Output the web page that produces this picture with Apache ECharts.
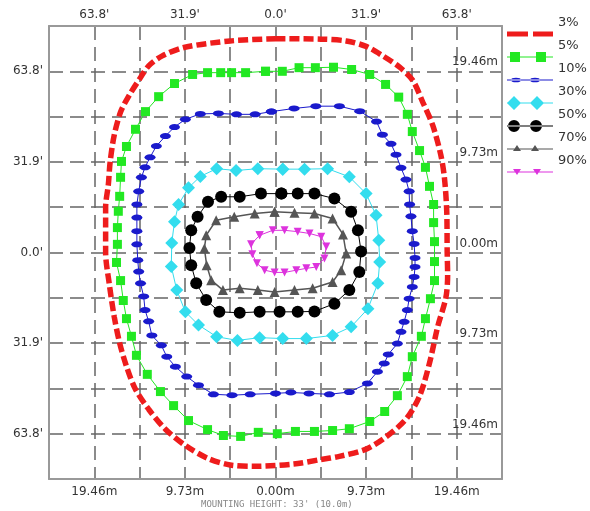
<!DOCTYPE html>
<html>
<head>
<meta charset="utf-8">
<script src="https://cdn.jsdelivr.net/npm/echarts@6/dist/echarts.min.js"></script>
<style>html,body{margin:0;padding:0;background:#fff}#c{width:590px;height:511px}</style>
</head>
<body>
<div id="c"></div>
<script>
// Axis ticks (grid units; one unit = 4.865 m = 15.95 ft)
const tickValues = [-4, -2, 0, 2, 4];
const meterLabels = ['19.46m', '9.73m', '0.00m', '9.73m', '19.46m'];
const feetLabels = ["63.8'", "31.9'", "0.0'", "31.9'", "63.8'"];
const seriesNames = ['3%', '5%', '10%', '30%', '50%', '70%', '90%'];

const iso3 = [[0,4.72],[1.0,4.71],[1.56,4.67],[2.0,4.55],[2.37,4.34],[2.74,4.09],[3.03,3.80],[3.25,3.32],[3.47,2.81],[3.65,2.15],[3.73,1.64],[3.78,0.91],[3.79,0.0],[3.80,-0.5],[3.76,-1.0],[3.58,-1.64],[3.40,-2.44],[3.18,-3.17],[2.88,-3.68],[2.44,-4.07],[2.0,-4.34],[1.41,-4.5],[1.0,-4.57],[0.4,-4.67],[-0.46,-4.72],[-1.0,-4.69],[-1.48,-4.55],[-1.99,-4.26],[-2.43,-3.9],[-2.8,-3.46],[-3.1,-3.0],[-3.29,-2.51],[-3.44,-2.0],[-3.56,-1.42],[-3.67,-0.69],[-3.75,0],[-3.75,1.0],[-3.69,1.5],[-3.65,2.0],[-3.56,2.59],[-3.42,3.1],[-3.23,3.47],[-3.0,3.83],[-2.8,4.12],[-2.5,4.34],[-2.0,4.53],[-1.0,4.67],[0,4.72]];

const iso5 = [[-0.22,4.0],[0.15,4.0],[0.52,4.08],[0.88,4.08],[1.28,4.09],[1.68,4.04],[2.08,3.93],[2.43,3.71],[2.72,3.43],[2.91,3.05],[3.02,2.67],[3.18,2.25],[3.31,1.88],[3.40,1.46],[3.49,1.06],[3.49,0.66],[3.51,0.24],[3.51,-0.2],[3.51,-0.62],[3.42,-1.02],[3.31,-1.46],[3.22,-1.85],[3.02,-2.30],[2.91,-2.74],[2.69,-3.16],[2.41,-3.51],[2.08,-3.73],[1.63,-3.89],[1.26,-3.93],[0.86,-3.95],[0.44,-3.95],[0.04,-4.0],[-0.38,-3.97],[-0.77,-4.06],[-1.15,-4.04],[-1.50,-3.91],[-1.92,-3.71],[-2.25,-3.38],[-2.54,-3.07],[-2.83,-2.69],[-3.07,-2.27],[-3.18,-1.85],[-3.29,-1.46],[-3.36,-1.06],[-3.42,-0.62],[-3.51,-0.22],[-3.49,0.18],[-3.49,0.55],[-3.47,0.91],[-3.44,1.24],[-3.42,1.66],[-3.40,2.01],[-3.29,2.34],[-3.09,2.72],[-2.87,3.11],[-2.58,3.44],[-2.23,3.73],[-1.83,3.93],[-1.50,3.97],[-1.21,3.97],[-0.97,3.97],[-0.66,3.97],[-0.22,4.0]];

const iso10 = [[-0.09,3.11],[0.41,3.18],[0.89,3.23],[1.41,3.23],[1.86,3.12],[2.23,2.89],[2.36,2.60],[2.55,2.40],[2.66,2.16],[2.77,1.87],[2.88,1.61],[2.95,1.35],[2.96,1.06],[2.99,0.80],[3.02,0.47],[3.06,0.19],[3.08,-0.12],[3.08,-0.32],[3.06,-0.54],[3.02,-0.76],[2.95,-1.02],[2.91,-1.27],[2.84,-1.53],[2.77,-1.75],[2.69,-2.01],[2.49,-2.25],[2.40,-2.45],[2.25,-2.63],[2.03,-2.89],[1.63,-3.08],[1.19,-3.13],[0.74,-3.11],[0.34,-3.09],[0.0,-3.11],[-0.56,-3.13],[-0.96,-3.15],[-1.37,-3.13],[-1.70,-2.93],[-1.96,-2.74],[-2.21,-2.52],[-2.40,-2.30],[-2.52,-2.05],[-2.73,-1.83],[-2.80,-1.52],[-2.88,-1.27],[-2.91,-0.97],[-2.98,-0.68],[-3.02,-0.42],[-3.04,-0.17],[-3.06,0.18],[-3.06,0.47],[-3.06,0.77],[-3.06,1.06],[-3.02,1.35],[-2.96,1.66],[-2.88,1.88],[-2.77,2.10],[-2.63,2.35],[-2.43,2.57],[-2.23,2.77],[-1.99,2.94],[-1.66,3.06],[-1.26,3.07],[-0.86,3.05],[-0.45,3.05],[-0.09,3.11]];

const iso30 = [[0.16,1.84],[0.64,1.84],[1.15,1.85],[1.63,1.67],[2.0,1.30],[2.22,0.82],[2.28,0.27],[2.30,-0.21],[2.26,-0.68],[2.04,-1.24],[1.67,-1.64],[1.26,-1.83],[0.68,-1.90],[0.16,-1.90],[-0.35,-1.88],[-0.84,-1.94],[-1.30,-1.86],[-1.70,-1.60],[-1.99,-1.31],[-2.18,-0.83],[-2.30,-0.31],[-2.29,0.21],[-2.23,0.68],[-2.14,1.06],[-1.92,1.43],[-1.66,1.68],[-1.30,1.85],[-0.87,1.81],[-0.39,1.85],[0.16,1.84]];

const iso50 = [[0.13,1.30],[0.49,1.30],[0.86,1.30],[1.30,1.19],[1.67,0.90],[1.82,0.49],[1.89,0.02],[1.85,-0.43],[1.63,-0.83],[1.30,-1.13],[0.86,-1.30],[0.49,-1.31],[0.09,-1.31],[-0.35,-1.31],[-0.79,-1.33],[-1.24,-1.31],[-1.53,-1.05],[-1.75,-0.68],[-1.86,-0.28],[-1.90,0.10],[-1.86,0.49],[-1.72,0.79],[-1.49,1.12],[-1.20,1.23],[-0.79,1.23],[-0.32,1.30],[0.13,1.30]];

const iso70 = [[-0.02,0.90],[0.42,0.88],[0.86,0.86],[1.26,0.75],[1.49,0.40],[1.56,-0.02],[1.45,-0.39],[1.26,-0.65],[0.82,-0.79],[0.42,-0.83],[-0.02,-0.87],[-0.39,-0.83],[-0.79,-0.79],[-1.16,-0.83],[-1.42,-0.61],[-1.52,-0.28],[-1.57,0.09],[-1.53,0.38],[-1.31,0.71],[-0.91,0.79],[-0.46,0.86],[-0.02,0.90]];

const iso90 = [[-0.35,0.38],[-0.06,0.49],[0.20,0.49],[0.49,0.46],[0.75,0.42],[1.01,0.35],[1.12,0.13],[1.08,-0.13],[0.90,-0.32],[0.68,-0.35],[0.46,-0.39],[0.20,-0.44],[-0.02,-0.44],[-0.24,-0.39],[-0.41,-0.24],[-0.51,-0.04],[-0.54,0.18],[-0.35,0.38]];

function labelFor(list) {
  return function (v) {
    const i = tickValues.indexOf(Math.round(v));
    return (Math.abs(v - Math.round(v)) < 1e-6 && i >= 0) ? list[i] : '';
  };
}

const corners = 'M0,0h0.01v0.01h-0.01z M45.99,13.99h0.01v0.01h-0.01z ';
const icons = [
  'path://' + corners + 'M0,4.5h21v5h-21z M26,4.5h20v5h-20z',
  'path://' + corners + 'M0,6.5h46v1h-46z M3,2h10v10h-10z M29,2h10v10h-10z',
  'path://' + corners + 'M0,6.5h46v1h-46z M4,7a5,2.3 0 1,0 10,0a5,2.3 0 1,0 -10,0z M23,7a5,2.3 0 1,0 10,0a5,2.3 0 1,0 -10,0z',
  'path://' + corners + 'M0,6.5h46v1h-46z M7,0L14,7L7,14L0,7z M30,0L37,7L30,14L23,7z',
  'path://' + corners + 'M0,6.5h46v1h-46z M1,7a6,6 0 1,0 12,0a6,6 0 1,0 -12,0z M23,7a6,6 0 1,0 12,0a6,6 0 1,0 -12,0z',
  'path://' + corners + 'M0,6.5h46v1h-46z M10,3L14,9L6,9z M28,3L32,9L24,9z',
  'path://' + corners + 'M0,6.5h46v1h-46z M6,4L14,4L10,10z M26,4L34,4L30,10z'
];

const gridDash = { show: true, lineStyle: { color: '#666', type: [14, 7], width: 1.5 } };
const frame = { show: true, onZero: false, lineStyle: { color: '#999', width: 2 } };
const labelFont = { fontFamily: 'DejaVu Sans', fontSize: 12, color: '#333' };

const chart = echarts.init(document.getElementById('c'), null, { renderer: 'canvas' });
chart.setOption({
  animation: false,
  backgroundColor: '#fff',
  title: {
    text: "MOUNTING HEIGHT: 33' (10.0m)",
    left: 201, top: 500, padding: 0,
    textStyle: { fontFamily: 'DejaVu Sans Mono', fontSize: 9, fontWeight: 'normal', color: '#888' }
  },
  grid: { left: 49, right: 88, top: 26, bottom: 32 },
  legend: {
    orient: 'vertical', left: 507, top: 12, padding: 0,
    itemWidth: 46, itemHeight: 14, itemGap: -21,
    itemStyle: { borderWidth: 0 },
    formatter: function (name) { return name + '\n '; },
    textStyle: { fontFamily: 'DejaVu Sans', fontSize: 13, color: '#333', lineHeight: 22 },
    data: seriesNames.map((n, i) => ({ name: n, icon: icons[i] }))
  },
  xAxis: [
    { type: 'value', position: 'bottom', min: -5, max: 5, interval: 1,
      axisLine: frame, axisTick: { show: false }, splitLine: gridDash,
      axisLabel: Object.assign({ margin: 7, formatter: labelFor(meterLabels) }, labelFont) },
    { type: 'value', position: 'top', min: -5, max: 5, interval: 1,
      axisLine: frame, axisTick: { show: false }, splitLine: { show: false },
      axisLabel: Object.assign({ margin: 5, formatter: labelFor(feetLabels) }, labelFont) }
  ],
  yAxis: [
    { type: 'value', position: 'left', min: -5, max: 5, interval: 1,
      axisLine: frame, axisTick: { show: false }, splitLine: gridDash,
      axisLabel: Object.assign({ margin: 6, formatter: labelFor(feetLabels) }, labelFont) },
    { type: 'value', position: 'right', min: -5, max: 5, interval: 1,
      axisLine: frame, axisTick: { show: false }, splitLine: { show: false },
      axisLabel: Object.assign({ inside: true, margin: 4, verticalAlign: 'bottom', padding: [0, 0, 3, 0], formatter: labelFor(meterLabels) }, labelFont) }
  ],
  series: [
    { name: '3%', type: 'line', data: iso3, smooth: 0.3, symbol: 'none', color: '#ee1c1c',
      lineStyle: { width: 5.5, type: [10, 4], color: '#ee1c1c' } },
    { name: '5%', type: 'line', data: iso5, symbol: 'rect', symbolSize: 9, showAllSymbol: true, color: '#22e822',
      itemStyle: { color: '#22e822', borderWidth: 0 }, lineStyle: { width: 1, color: '#22e822' } },
    { name: '10%', type: 'line', data: iso10, symbol: 'circle', symbolSize: [11, 6], showAllSymbol: true, color: '#1a1acc',
      itemStyle: { color: '#1a1acc', borderWidth: 0 }, lineStyle: { width: 1, color: '#1a1acc' } },
    { name: '30%', type: 'line', data: iso30, symbol: 'diamond', symbolSize: 13, showAllSymbol: true, color: '#33ddee',
      itemStyle: { color: '#33ddee', borderWidth: 0 }, lineStyle: { width: 1, color: '#33ddee' } },
    { name: '50%', type: 'line', data: iso50, symbol: 'circle', symbolSize: 12, showAllSymbol: true, color: '#000000',
      itemStyle: { color: '#000000', borderWidth: 0 }, lineStyle: { width: 1, color: '#000000' } },
    { name: '70%', type: 'line', data: iso70, symbol: 'triangle', symbolSize: 10, showAllSymbol: true, color: '#555555',
      itemStyle: { color: '#555555', borderWidth: 0 }, lineStyle: { width: 1.5, color: '#555555' } },
    { name: '90%', type: 'line', data: iso90, symbol: 'triangle', symbolRotate: 180, symbolSize: 8, showAllSymbol: true, color: '#dd33dd',
      itemStyle: { color: '#dd33dd', borderWidth: 0 }, lineStyle: { width: 1, color: '#dd33dd' } }
  ]
});
</script>
</body>
</html>
